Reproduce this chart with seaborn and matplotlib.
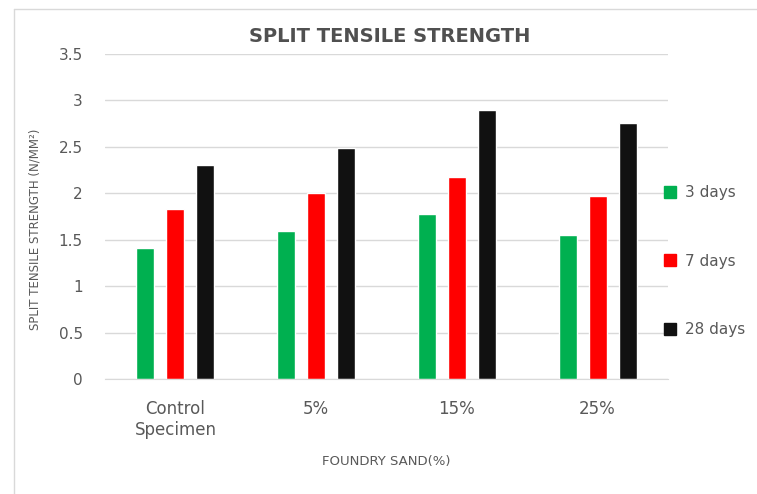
import matplotlib
matplotlib.use('Agg')
import matplotlib.pyplot as plt
import seaborn as sns
import pandas as pd
from matplotlib.lines import Line2D

# data
categories = ['Control\nSpecimen', '5%', '15%', '25%']
ages = ['3 days', '7 days', '28 days']
days_3 = [1.41, 1.59, 1.78, 1.55]
days_7 = [1.83, 2.00, 2.18, 1.97]
days_28 = [2.30, 2.49, 2.90, 2.76]
colors = ['#00B050', '#FF0000', '#111111']

df = pd.DataFrame({
    'Mix': categories * 3,
    'Age': [a for a in ages for _ in categories],
    'Strength': days_3 + days_7 + days_28,
})

sns.set_style('white')
plt.rcParams['font.family'] = ['DejaVu Sans']
text_col = '#595959'

fig = plt.figure(figsize=(7.57, 4.94), dpi=100)
ax = fig.add_axes([105 / 757, 1 - 379 / 494, 563 / 757, 325 / 494])

sns.barplot(data=df, x='Mix', y='Strength', hue='Age', palette=colors,
            width=0.64, gap=0.4, saturation=1, ax=ax, legend=False)

ax.set_ylim(0, 3.5)
ax.set_yticks([0, 0.5, 1, 1.5, 2, 2.5, 3, 3.5])
ax.set_yticklabels(['0', '0.5', '1', '1.5', '2', '2.5', '3', '3.5'])
ax.yaxis.grid(True, color='#D9D9D9', linewidth=1)
ax.set_axisbelow(True)
for s in ['top', 'right', 'left']:
    ax.spines[s].set_visible(False)
ax.spines['bottom'].set_color('#D9D9D9')
ax.tick_params(axis='both', length=0, labelsize=11, colors=text_col)
ax.tick_params(axis='y', pad=16)
ax.tick_params(axis='x', pad=15, labelsize=12)

ax.set_xlabel('FOUNDRY SAND(%)', fontsize=9.5, color=text_col, labelpad=12)
ax.set_ylabel('SPLIT TENSILE STRENGTH (N/MM²)', fontsize=8.5, color=text_col)
ax.yaxis.set_label_coords(-0.113, 0.46)

fig.text(390 / 757, 1 - 36 / 494, 'SPLIT TENSILE STRENGTH', ha='center', va='center',
         fontsize=14, fontweight='bold', color='#505050')

handles = [Line2D([], [], marker='s', linestyle='none', markersize=8,
                  markerfacecolor=c, markeredgecolor=c) for c in colors]
fig.legend(handles, ages, loc='center left', bbox_to_anchor=(641 / 757, 1 - 261 / 494),
           frameon=False, fontsize=11, labelspacing=3.5, handletextpad=0.0,
           labelcolor=text_col)

# outer chart border
fig.add_artist(Line2D([14 / 757, 14 / 757], [0, 1 - 9 / 494], transform=fig.transFigure,
                      color='#D9D9D9', linewidth=1))
fig.add_artist(Line2D([14 / 757, 1], [1 - 9 / 494, 1 - 9 / 494], transform=fig.transFigure,
                      color='#D9D9D9', linewidth=1))

fig.savefig('out.png', dpi=100)
